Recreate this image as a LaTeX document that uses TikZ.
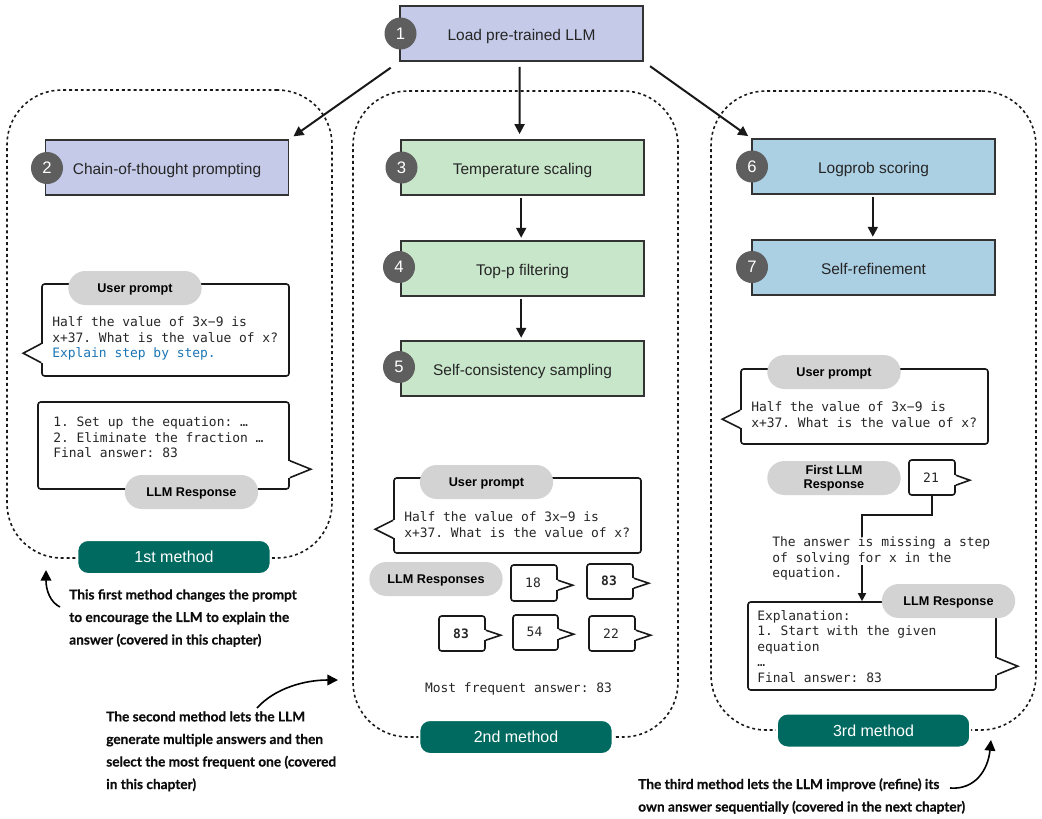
\documentclass[tikz,border=0pt]{standalone}
\usepackage{fontspec}
\setmainfont{Liberation Sans}
\setmonofont{DejaVu Sans Mono}
\newfontfamily\notefont[BoldFeatures={FakeBold=0.5}]{Lato}
\usetikzlibrary{arrows.meta,positioning,calc}
\definecolor{purplebox}{HTML}{C5CAE8}
\definecolor{greenbox}{HTML}{C8E6CA}
\definecolor{bluebox}{HTML}{ABCFE3}
\definecolor{badgegray}{HTML}{5E5E5E}
\definecolor{pillgray}{HTML}{D3D3D3}
\definecolor{methodteal}{HTML}{006A60}
\definecolor{hintblue}{HTML}{1B76B5}
\tikzstyle{step box}=[draw=black!80,line width=1.1pt,minimum width=182pt,minimum height=41pt,inner sep=0pt,font=\fontsize{11.6}{13}\selectfont,text=black!85,text height=9.8pt,text depth=0pt]
\tikzstyle{badge}=[circle,fill=badgegray,text=white,minimum size=24pt,inner sep=0pt,font=\fontsize{12.5}{14}\selectfont]
\tikzstyle{group}=[draw=black!90,line width=1.2pt,dash pattern=on 2.2pt off 2.2pt,rounded corners=41pt]
\tikzstyle{method}=[fill=methodteal,draw=white,line width=1.5pt,text=white,rounded corners=8pt,minimum width=145pt,minimum height=25.5pt,inner sep=0pt,font=\fontsize{12}{14}\selectfont]
\tikzstyle{pill}=[fill=pillgray,rounded corners=12.75pt,minimum width=100pt,minimum height=25.5pt,inner sep=0pt,align=center,font=\bfseries\fontsize{9.5}{10.6}\selectfont,text height=6.8pt,text depth=0.4pt]
\tikzstyle{bubble}=[draw=black!90,fill=white,line width=1.2pt,rounded corners=2pt,inner sep=0pt]
\tikzstyle{mono}=[inner sep=0pt,align=left,anchor=north west,font=\ttfamily\fontsize{9.7}{11.6}\selectfont,text=black!85]
\tikzstyle{answer}=[inner sep=0pt,font=\ttfamily\fontsize{9.7}{11.6}\selectfont,text=black!85]
\tikzstyle{note}=[inner sep=0pt,align=left,anchor=north west,font=\notefont\bfseries\fontsize{10.25}{16.9}\selectfont,text=black!95]
\tikzstyle{flow}=[-{Triangle[length=7.5pt,width=7.5pt]},line width=1.5pt,black!90]
\tikzstyle{curve}=[-{Triangle[length=8pt,width=8pt]},line width=1.2pt]
\tikzstyle{link}=[-{Triangle[length=6pt,width=6pt]},line width=1.2pt,black!90]
\newcommand{\bubblebox}[5]{\node (#1) at (#2,#3) [bubble,minimum width=#4*0.75pt,minimum height=#5*0.75pt] {};}
% tails: node, y of the tip, half height, length
\newcommand{\tailright}[4]{\fill[white] ($(#1.north east)+(-1.5,#2-#3)$) rectangle ($(#1.north east)+(1.5,#2+#3)$);
  \draw[line width=1.2pt,black!90,line join=miter] ($(#1.north east)+(0,#2-#3)$) -- ++(#4,#3) -- ++(-#4,#3);}
\newcommand{\tailleft}[4]{\fill[white] ($(#1.north west)+(-1.5,#2-#3)$) rectangle ($(#1.north west)+(1.5,#2+#3)$);
  \draw[line width=1.2pt,black!90,line join=miter] ($(#1.north west)+(0,#2-#3)$) -- ++(-#4,#3) -- ++(#4,#3);}
\begin{document}
\begin{tikzpicture}[x=0.75pt,y=-0.75pt]
\useasboundingbox (0,0) rectangle (1042,818);

% dashed groups
\node (g1) at (169.5,324) [group,minimum width=243.75pt,minimum height=351pt,inner sep=0pt] {};
\node (g2) at (515.5,414) [group,minimum width=243.75pt,minimum height=484.5pt,inner sep=0pt] {};
\node (g3) at (873.5,410.5) [group,minimum width=243.75pt,minimum height=479.25pt,inner sep=0pt] {};

\node (load) at (521.5,33.5) [step box,fill=purplebox] {Load pre-trained LLM};
\node (cot) at (167,167.5) [step box,fill=purplebox] {Chain-of-thought prompting};
\node (temp) at (522.5,167.5) [step box,fill=greenbox] {Temperature scaling};
\node (topp) at (522.5,268.5) [step box,fill=greenbox] {Top-p filtering};
\node (self) at (522.5,368.5) [step box,fill=greenbox] {Self-consistency sampling};
\node (logp) at (873.5,166.5) [step box,fill=bluebox] {Logprob scoring};
\node (refine) at (873.5,267.5) [step box,fill=bluebox] {Self-refinement};

\node (n1) at (400.5,33.5) [badge] {1};
\node (n2) at (47,168) [badge] {2};
\node (n3) at (401.5,167.5) [badge] {3};
\node (n4) at (399,267) [badge] {4};
\node (n5) at (399,367) [badge] {5};
\node (n6) at (752,166.5) [badge] {6};
\node (n7) at (752,267) [badge] {7};

\draw[flow,shorten <=8pt,shorten >=4pt] (load.south west) -- (cot.north east);
\draw[flow,shorten <=4pt,shorten >=4pt] ([xshift=-1.5pt]load.south) -- ([xshift=-2.2pt]temp.north);
\draw[flow,shorten <=6pt,shorten >=3pt] (load.south east) -- (logp.north west);
\draw[flow,shorten <=2pt,shorten >=2pt] ([xshift=-1pt]temp.south) -- ([xshift=-1pt]topp.north);
\draw[flow,shorten <=2pt,shorten >=2pt] ([xshift=-1pt]topp.south) -- ([xshift=-1pt]self.north);
\draw[flow,shorten <=2pt,shorten >=2pt] ([xshift=-0.5pt]logp.south) -- ([xshift=-0.5pt]refine.north);

% first method
\bubblebox{up1}{165.5}{330}{247}{92}
\tailleft{up1}{70}{9.5}{18}
\node (up1t) at (52,316.5) [mono] {Half the value of 3x−9 is\\x+37. What is the value of x?\\\textcolor{hintblue}{Explain step by step.}};
\node (up1p) at (135,288) [pill] {User prompt};
\bubblebox{re1}{163.5}{445.5}{251}{87}
\tailright{re1}{68}{8.5}{21}
\node (re1t) at (53,416.5) [mono] {1. Set up the equation: …\\2. Eliminate the fraction …\\Final answer: 83};
\node (re1p) at (191.5,492) [pill] {LLM Response};
\node (m1) at (174,557) [method] {1st method};
\node (note1) at (69,589) [note] {This first method changes the prompt\\to encourage the LLM to explain the\\answer (covered in this chapter)};
\coordinate (c1) at (60,607);
\coordinate (c2) at (46,570);
\draw[curve] (c1) .. controls (50,602) and (46,590) .. (c2);

% second method
\bubblebox{up2}{517.5}{515.5}{247}{75}
\tailleft{up2}{52}{9}{18}
\node (up2t) at (404,511.5) [mono] {Half the value of 3x−9 is\\x+37. What is the value of x?};
\node (up2p) at (486.5,482) [pill] {User prompt};
\node (re2p) at (436,579) [pill] {LLM Responses};
\bubblebox{a1}{534}{583}{46}{36}
\tailright{a1}{21}{5}{15}
\bubblebox{a2}{610}{581.5}{46}{35}
\tailright{a2}{20}{5}{15}
\bubblebox{a3}{462}{633.5}{46}{35}
\tailright{a3}{20}{5}{15}
\bubblebox{a4}{535.5}{632.5}{45}{35}
\tailright{a4}{20}{5}{15}
\bubblebox{a5}{612}{633.5}{46}{35}
\tailright{a5}{20}{5}{15}
\node (a1t) at (533,583) [answer] {18};
\node (a2t) at (609,581) [answer] {\bfseries 83};
\node (a3t) at (461,634) [answer] {\bfseries 83};
\node (a4t) at (534.5,632) [answer] {54};
\node (a5t) at (611,634) [answer] {22};
\node (most) at (518.5,689) [answer] {Most frequent answer: 83};
\node (m2) at (516,737) [method] {2nd method};
\node (note2) at (106,711) [note] {The second method lets the LLM\\generate multiple answers and then\\select the most frequent one (covered\\in this chapter)};
\coordinate (c3) at (257,708);
\coordinate (c4) at (338,680);
\draw[curve] (c3) .. controls (275,688) and (305,680) .. (c4);

% third method
\bubblebox{up3}{864.5}{406.5}{247}{75}
\tailleft{up3}{51}{9}{18}
\node (up3t) at (751,401.5) [mono] {Half the value of 3x−9 is\\x+37. What is the value of x?};
\node (up3p) at (834,372) [pill] {User prompt};
\node (first) at (834,478) [pill,text height=,text depth=] {First LLM\\Response};
\bubblebox{a6}{932}{477.5}{46}{35}
\tailright{a6}{21}{5}{14}
\node (a6t) at (931,478) [answer] {21};
\bubblebox{re3}{872}{646}{248}{88}
\tailright{re3}{65}{8.5}{21}
\coordinate (bend) at (862,515);
\draw[link] (a6.south) |- (bend) -- (re3.north -| bend);
\node (fb1) at (772,536.5) [mono,fill=white] {The answer is missing a step\\of solving for x in the};
\node (fb2) at (772,567.5) [mono] {equation.};
\node (re3t) at (757,610) [mono] {Explanation:\\1. Start with the given\\equation\\…\\Final answer: 83};
\node (re3p) at (948.5,601) [pill] {LLM Response};
\node (m3) at (873.5,730.5) [method] {3rd method};
\node (note3) at (638,778) [note] {The third method lets the LLM improve (refine) its\\own answer sequentially (covered in the next chapter)};
\coordinate (c5) at (950,788);
\coordinate (c6) at (991,740);
\draw[curve] (c5) .. controls (975,790) and (988,770) .. (c6);
\end{tikzpicture}
\end{document}
